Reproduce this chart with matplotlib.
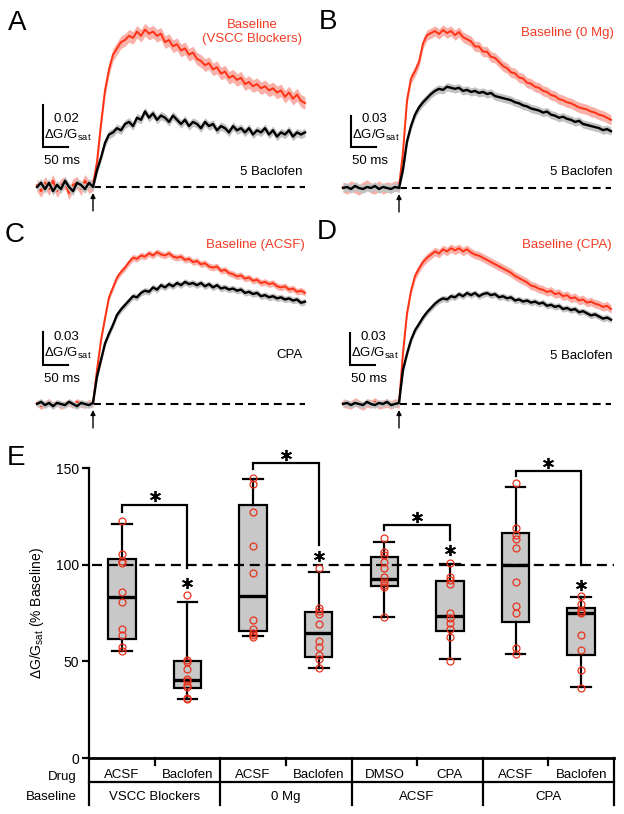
import numpy as np
import matplotlib
matplotlib.use('Agg')
import matplotlib.pyplot as plt

plt.rcParams['font.family'] = ['Liberation Sans', 'DejaVu Sans']
plt.rcParams['mathtext.default'] = 'regular'

FIG_W, FIG_H = 624, 814
PX_PER_MS = 0.5
RED = '#FF3214'
RED_TXT = '#F23C22'
RED_BAND = '#F9B0A8'
GREY_BAND = '#C2C2C2'
BOX_FILL = '#C8C8C8'

# ─── TRACES: dG/Gsat, sampled every 8 ms, stim at t = 0 ───
t_ms = np.arange(-112, 425, 8)

trace_a_base = [
    0.001, -0.002, 0.002, -0.001, 0.003, -0.002, 0.001, 0.002, -0.003, 0.001,
    0.002, -0.001, 0.003, 0.000, 0.001, 0.012, 0.030, 0.046, 0.056, 0.063,
    0.066, 0.069, 0.070, 0.072, 0.071, 0.074, 0.072, 0.075, 0.073, 0.074,
    0.072, 0.073, 0.069, 0.070, 0.067, 0.068, 0.065, 0.066, 0.063, 0.064,
    0.061, 0.060, 0.058, 0.059, 0.056, 0.057, 0.054, 0.055, 0.052, 0.053,
    0.051, 0.052, 0.049, 0.050, 0.048, 0.049, 0.047, 0.048, 0.046, 0.047,
    0.045, 0.046, 0.043, 0.045, 0.042, 0.044, 0.041, 0.040]
trace_a_drug = [
    0.000, 0.002, -0.001, 0.002, -0.002, 0.001, -0.001, 0.003, 0.000, -0.002,
    0.002, 0.001, -0.001, 0.002, 0.000, 0.008, 0.014, 0.021, 0.025, 0.026,
    0.028, 0.027, 0.030, 0.031, 0.029, 0.033, 0.032, 0.036, 0.033, 0.035,
    0.032, 0.034, 0.033, 0.031, 0.034, 0.032, 0.030, 0.032, 0.029, 0.031,
    0.030, 0.028, 0.031, 0.029, 0.030, 0.027, 0.029, 0.028, 0.026, 0.029,
    0.027, 0.028, 0.026, 0.028, 0.025, 0.027, 0.026, 0.028, 0.025, 0.027,
    0.024, 0.026, 0.025, 0.027, 0.024, 0.026, 0.025, 0.026]

trace_b_base = [
    0.001, -0.001, 0.002, 0.000, -0.002, 0.001, 0.003, 0.000, -0.001, 0.002,
    -0.001, 0.001, 0.000, 0.002, 0.001, 0.035, 0.085, 0.106, 0.113, 0.122,
    0.140, 0.148, 0.150, 0.152, 0.149, 0.153, 0.150, 0.152, 0.148, 0.151,
    0.146, 0.144, 0.142, 0.137, 0.137, 0.132, 0.132, 0.127, 0.126, 0.122,
    0.118, 0.116, 0.112, 0.111, 0.107, 0.106, 0.102, 0.101, 0.098, 0.097,
    0.094, 0.093, 0.090, 0.089, 0.086, 0.085, 0.083, 0.082, 0.080, 0.078,
    0.077, 0.076, 0.074, 0.073, 0.071, 0.070, 0.068, 0.066]
trace_b_drug = [
    0.000, 0.001, -0.001, 0.002, 0.000, -0.001, 0.001, 0.000, 0.002, -0.001,
    0.001, 0.000, -0.001, 0.001, 0.000, 0.018, 0.045, 0.060, 0.071, 0.078,
    0.083, 0.087, 0.091, 0.094, 0.096, 0.095, 0.098, 0.097, 0.096, 0.097,
    0.094, 0.095, 0.093, 0.094, 0.092, 0.093, 0.091, 0.092, 0.089, 0.088,
    0.087, 0.086, 0.085, 0.083, 0.082, 0.080, 0.079, 0.077, 0.076, 0.075,
    0.073, 0.074, 0.071, 0.070, 0.068, 0.069, 0.067, 0.066, 0.064, 0.065,
    0.062, 0.061, 0.060, 0.059, 0.058, 0.056, 0.057, 0.055]

trace_c_base = [
    0.001, -0.002, 0.000, 0.002, -0.001, 0.001, -0.002, 0.000, 0.001, -0.001,
    0.002, 0.000, -0.001, 0.001, 0.000, 0.031, 0.058, 0.078, 0.097, 0.106,
    0.115, 0.120, 0.124, 0.129, 0.133, 0.132, 0.135, 0.134, 0.137, 0.135,
    0.138, 0.136, 0.135, 0.137, 0.134, 0.133, 0.134, 0.131, 0.132, 0.129,
    0.130, 0.127, 0.128, 0.125, 0.124, 0.125, 0.121, 0.122, 0.119, 0.118,
    0.116, 0.117, 0.114, 0.115, 0.112, 0.113, 0.110, 0.111, 0.109, 0.110,
    0.107, 0.106, 0.107, 0.104, 0.105, 0.102, 0.103, 0.101]
trace_c_drug = [
    0.000, 0.002, -0.001, 0.001, -0.002, 0.001, 0.000, -0.001, 0.002, 0.000,
    -0.002, 0.001, 0.000, -0.001, 0.001, 0.025, 0.040, 0.055, 0.064, 0.072,
    0.081, 0.086, 0.090, 0.094, 0.098, 0.097, 0.101, 0.103, 0.102, 0.106,
    0.104, 0.108, 0.106, 0.109, 0.107, 0.110, 0.108, 0.111, 0.109, 0.110,
    0.108, 0.110, 0.107, 0.109, 0.106, 0.108, 0.105, 0.106, 0.104, 0.105,
    0.103, 0.104, 0.101, 0.102, 0.100, 0.101, 0.098, 0.099, 0.097, 0.098,
    0.096, 0.097, 0.095, 0.096, 0.094, 0.095, 0.092, 0.093]

trace_d_base = [
    0.001, 0.000, -0.001, 0.002, 0.000, -0.002, 0.001, 0.000, 0.002, -0.001,
    0.000, 0.001, -0.001, 0.001, 0.000, 0.048, 0.085, 0.106, 0.120, 0.127,
    0.133, 0.137, 0.140, 0.143, 0.141, 0.145, 0.143, 0.146, 0.144, 0.146,
    0.143, 0.145, 0.142, 0.140, 0.139, 0.137, 0.135, 0.133, 0.131, 0.129,
    0.127, 0.125, 0.123, 0.120, 0.118, 0.116, 0.114, 0.111, 0.110, 0.108,
    0.107, 0.105, 0.106, 0.103, 0.104, 0.101, 0.102, 0.099, 0.100, 0.097,
    0.098, 0.095, 0.096, 0.094, 0.093, 0.091, 0.092, 0.089]
trace_d_drug = [
    0.000, 0.001, -0.001, 0.001, 0.000, -0.001, 0.002, 0.000, -0.001, 0.001,
    0.000, 0.002, -0.001, 0.000, 0.001, 0.032, 0.047, 0.060, 0.069, 0.075,
    0.081, 0.086, 0.090, 0.094, 0.097, 0.099, 0.098, 0.101, 0.100, 0.103,
    0.101, 0.104, 0.102, 0.104, 0.101, 0.103, 0.104, 0.102, 0.103, 0.100,
    0.101, 0.099, 0.100, 0.097, 0.098, 0.096, 0.097, 0.095, 0.096, 0.094,
    0.095, 0.092, 0.093, 0.091, 0.092, 0.089, 0.090, 0.088, 0.089, 0.086,
    0.087, 0.085, 0.083, 0.084, 0.082, 0.080, 0.081, 0.079]

sem_base = [0.003, 0.005, 0.003, 0.004]
sem_drug = [0.002, 0.004, 0.003, 0.003]
scale_amp = [0.02, 0.03, 0.03, 0.03]
base_labels = ['Baseline\n(VSCC Blockers)', 'Baseline (0 Mg)', 'Baseline (ACSF)', 'Baseline (CPA)']
drug_labels = ['5 Baclofen', '5 Baclofen', 'CPA', '5 Baclofen']
panel_letters = ['A', 'B', 'C', 'D']

# ─── BOX PLOT: dG/Gsat (% baseline) ───
drug_names = ['ACSF', 'Baclofen', 'ACSF', 'Baclofen', 'DMSO', 'CPA', 'ACSF', 'Baclofen']
baseline_names = ['VSCC Blockers', '0 Mg', 'ACSF', 'CPA']
box_med = [83.4, 40.4, 83.9, 64.8, 92.8, 73.5, 99.8, 74.8]
box_q1 = [61.7, 36.4, 65.5, 52.3, 89.0, 65.7, 70.2, 53.3]
box_q3 = [103.1, 50.0, 130.9, 75.3, 104.0, 91.8, 116.2, 77.8]
whis_lo = [55.2, 30.5, 63.0, 46.7, 72.8, 51.1, 53.6, 36.9]
whis_hi = [120.9, 80.5, 144.4, 96.3, 111.6, 100.4, 140.0, 83.4]
cells = [
    [122.8, 105.4, 102.1, 101.0, 86.1, 80.5, 66.7, 63.6, 57.6, 55.4],
    [84.1, 50.7, 49.5, 46.2, 40.9, 40.0, 37.8, 36.5, 30.8, 30.5],
    [144.9, 141.5, 127.3, 109.7, 95.9, 71.4, 66.6, 64.9, 63.5, 62.8],
    [98.4, 77.4, 76.0, 74.5, 69.1, 60.5, 57.6, 53.3, 51.1, 46.4],
    [113.6, 106.4, 105.0, 101.6, 98.1, 93.8, 91.2, 89.5, 88.6, 72.8],
    [101.1, 93.4, 92.1, 90.0, 74.8, 72.3, 69.7, 66.6, 62.8, 50.3],
    [142.4, 119.1, 115.4, 113.1, 108.4, 90.8, 78.7, 74.8, 56.7, 53.6],
    [83.9, 79.9, 76.8, 75.6, 74.8, 63.5, 55.9, 45.5, 36.1],
]
# significance brackets: (left group, right group, bar height, left leg end, right leg end)
brackets = [(1, 2, 131.1, 127.4, 98.3), (3, 4, 152.7, 149.3, 110.2),
            (5, 6, 120.7, 118.0, 112.8), (7, 8, 148.5, 145.9, 99.8)]
star_groups = [2, 4, 6, 8]
star_vals = [90.6, 104.5, 107.6, 89.5]


def px_axes(fig, left, top, right, bottom):
    return fig.add_axes([left / FIG_W, 1 - bottom / FIG_H,
                         (right - left) / FIG_W, (bottom - top) / FIG_H])


def ftext(fig, x, y, s, **kw):
    return fig.text(x / FIG_W, 1 - y / FIG_H, s, **kw)


fig = plt.figure(figsize=(FIG_W / 100, FIG_H / 100), dpi=100)

# ─── PANELS A-D ───
# (stim x px, baseline y px, px per unit, scale bar x px, scale bar bottom px)
layout = [(93, 187, 2100, 43, 147), (399, 188, 1033, 351, 147),
          (93, 404, 1100, 43, 365), (399, 404, 1067, 350, 365)]
letter_pos = [(17, 23), (328, 22), (15, 235), (327, 232)]
red_lbl_pos = [(252, 32, 'center'), (614, 33, 'right'), (305, 245, 'right'), (612, 245, 'right')]
blk_lbl_pos = [(303, 172), (612, 172), (303, 355), (612, 356)]
traces = [(trace_a_base, trace_a_drug), (trace_b_base, trace_b_drug),
          (trace_c_base, trace_c_drug), (trace_d_base, trace_d_drug)]

for i, (stim, base, ppu, sbx, sby) in enumerate(layout):
    L, R, T, B = stim - 62, stim + 222, base - 185, base + 26
    ax = px_axes(fig, L, T, R, B)
    ax.set_xlim((L - stim) / PX_PER_MS, (R - stim) / PX_PER_MS)
    ax.set_ylim((base - B) / ppu, (base - T) / ppu)
    ax.axis('off')

    yb = np.array(traces[i][0])
    yd = np.array(traces[i][1])
    ax.plot([0, t_ms[-1]], [0, 0], color='k', lw=1.5, ls=(0, (3.8, 2.4)), zorder=1)
    ax.fill_between(t_ms, yb - sem_base[i], yb + sem_base[i], color=RED_BAND, lw=0, zorder=2)
    ax.plot(t_ms, yb, color=RED, lw=1.4, zorder=3)
    ax.fill_between(t_ms, yd - sem_drug[i], yd + sem_drug[i], color=GREY_BAND, lw=0, zorder=4)
    ax.plot(t_ms, yd, color='k', lw=1.7, zorder=5)

    # stimulus arrow
    ax.annotate('', xy=(0, -6 / ppu), xytext=(0, -24 / ppu),
                arrowprops=dict(arrowstyle='-|>', lw=1.0, color='k', mutation_scale=7,
                                shrinkA=0, shrinkB=0))

    # scale bar
    t0 = (sbx - stim) / PX_PER_MS
    v0 = (base - sby) / ppu
    ax.plot([t0, t0, t0 + 50], [v0 + scale_amp[i], v0, v0], color='k', lw=1.5,
            solid_joinstyle='miter', clip_on=False)
    ftext(fig, sbx + 23, sby - 28, f'{scale_amp[i]:.2f}', fontsize=9.5, ha='center', va='center')
    ftext(fig, sbx + 25, sby - 12, 'ΔG/G$_{sat}$', fontsize=9.5, ha='center', va='center')
    ftext(fig, sbx + 19, sby + 14, '50 ms', fontsize=9.5, ha='center', va='center')

    lx, ly = letter_pos[i]
    ftext(fig, lx, ly, panel_letters[i], fontsize=20, ha='center', va='center')
    rx, ry, rha = red_lbl_pos[i]
    ftext(fig, rx, ry, base_labels[i], fontsize=9.5, color=RED_TXT, ha=rha, va='center',
          linespacing=1.3)
    bx, by = blk_lbl_pos[i]
    ftext(fig, bx, by, drug_labels[i], fontsize=9.5, ha='right', va='center')

# ─── PANEL E ───
BOX_L, BOX_R, BOX_T, BOX_B = 89, 614, 468, 758
axe = px_axes(fig, BOX_L, BOX_T, BOX_R, BOX_B)
axe.set_xlim(0.5, 8.5)
axe.set_ylim(0, 150)
for sp in axe.spines.values():
    sp.set_visible(False)
ppu_e = (BOX_B - BOX_T) / 150.0
row1 = -(782 - BOX_B) / ppu_e
row2 = -(805 - BOX_B) / ppu_e
tick_short = -7 / ppu_e

pos = np.arange(1, len(drug_names) + 1)
stats = [dict(med=m, q1=a, q3=b, whislo=lo, whishi=hi, fliers=[])
         for m, a, b, lo, hi in zip(box_med, box_q1, box_q3, whis_lo, whis_hi)]
axe.bxp(stats, positions=pos, widths=0.42, capwidths=0.3, patch_artist=True,
        showfliers=False, manage_ticks=False,
        boxprops=dict(facecolor=BOX_FILL, edgecolor='k', lw=1.6),
        medianprops=dict(color='k', lw=2.4),
        whiskerprops=dict(color='k', lw=1.6),
        capprops=dict(color='k', lw=1.6), zorder=2)
for p, vals in zip(pos, cells):
    axe.plot([p] * len(vals), vals, 'o', ms=5, mfc='none', mec='#E8321E', mew=0.9, zorder=4)

axe.plot([0.55, 8.5], [100, 100], color='k', lw=1.6, ls=(0, (4.5, 2.6)), zorder=3)

for g1, g2, top, l_end, r_end in brackets:
    axe.plot([g1, g1, g2, g2], [l_end, top, top, r_end], color='k', lw=1.6,
             solid_joinstyle='miter', clip_on=False, zorder=3)
    axe.plot((g1 + g2) / 2, top + 4.2, marker=(6, 2, 0), ms=8, mew=1.3, color='k',
             clip_on=False, zorder=5)
for g, v in zip(star_groups, star_vals):
    axe.plot(g, v, marker=(6, 2, 0), ms=8, mew=1.3, color='k', clip_on=False, zorder=5)

axe.set_xticks([])
axe.set_yticks([0, 50, 100, 150])
axe.tick_params(axis='y', length=5, width=1.6, labelsize=10, pad=2)
axe.set_ylabel('ΔG/G$_{sat}$ (% Baseline)', fontsize=10)
axe.yaxis.set_label_coords((46 - BOX_L) / (BOX_R - BOX_L), 0.5)

# axis frame and the table below it
line_kw = dict(color='k', lw=1.6, clip_on=False, solid_capstyle='projecting')
axe.plot([0.5, 0.5], [row2, 150], **line_kw)
axe.plot([0.5, 8.5], [0, 0], color='k', lw=2.0, clip_on=False)
axe.plot([0.5, 8.5], [row1, row1], **line_kw)
for xs in [2.5, 4.5, 6.5, 8.5]:
    axe.plot([xs, xs], [row2, 0], **line_kw)
for xs in [1.5, 3.5, 5.5, 7.5]:
    axe.plot([xs, xs], [tick_short, 0], **line_kw)

y_drug = -(775 - BOX_B) / ppu_e
y_base = -(797 - BOX_B) / ppu_e
for p, name in zip(pos, drug_names):
    axe.text(p, y_drug, name, fontsize=9.5, ha='center', va='center')
for j, name in enumerate(baseline_names):
    axe.text(1.5 + 2 * j, y_base, name, fontsize=9.5, ha='center', va='center')
lbl_x = 0.5 + (77 - BOX_L) / ((BOX_R - BOX_L) / 8.0)
axe.text(lbl_x, -(777 - BOX_B) / ppu_e, 'Drug', fontsize=9.5, ha='right', va='center')
axe.text(lbl_x, y_base, 'Baseline', fontsize=9.5, ha='right', va='center')

ftext(fig, 16, 458, 'E', fontsize=20, ha='center', va='center')

fig.savefig('out.png', dpi=100)
